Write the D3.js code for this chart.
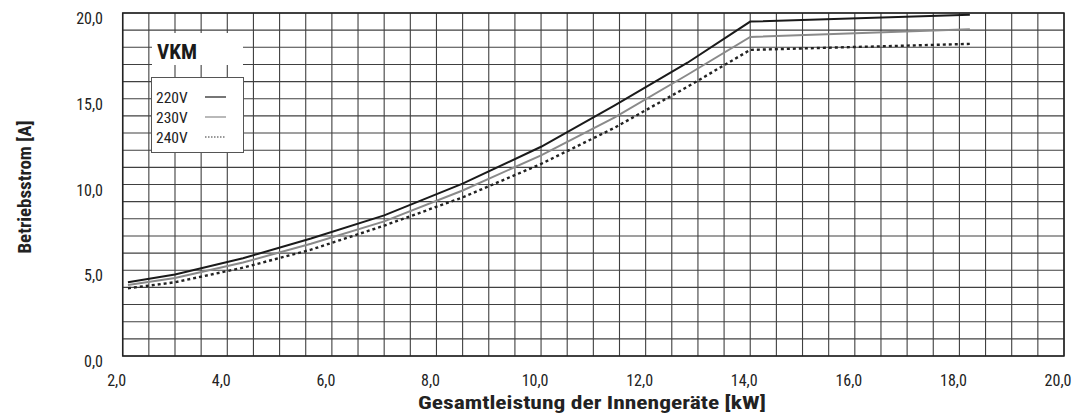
<!DOCTYPE html>
<html><head><meta charset="utf-8">
<script src="https://cdn.jsdelivr.net/npm/d3@7"></script>
<style>
html,body{margin:0;padding:0;background:#fff;}
svg{display:block;font-family:"Liberation Sans Narrow","Roboto Condensed","Arial Narrow",sans-serif;}
</style></head>
<body><svg id="c" width="1079" height="417"></svg>
<script>
const kw = [2.1, 3.0, 4.3, 5.6, 7.0, 8.5, 10.0, 11.4, 12.8, 14.0, 18.2];
const v220 = [4.3, 4.75, 5.7, 6.85, 8.2, 10.05, 12.2, 14.6, 17.1, 19.5, 19.9];
const v230 = [4.14, 4.55, 5.45, 6.55, 7.85, 9.65, 11.7, 13.9, 16.4, 18.6, 19.05];
const v240 = [3.95, 4.3, 5.15, 6.2, 7.6, 9.25, 11.2, 13.3, 15.7, 17.85, 18.2];
const seriesNames = ["220V", "230V", "240V"];
const xTicks = [2, 4, 6, 8, 10, 12, 14, 16, 18, 20];
const yTicks = [0, 5, 10, 15, 20];
const title = "VKM";
const xTitle = "Gesamtleistung der Innengeräte [kW]";
const yTitle = "Betriebsstrom [A]";

const svg = d3.select("#c");
const x = d3.scaleLinear().domain([2, 20]).range([122.7, 1064]);
const y = d3.scaleLinear().domain([0, 20]).range([356, 13]);
const fmt = d => d.toFixed(1).replace(".", ",");

// grid
const g = svg.append("g");
g.selectAll("line.v").data(d3.range(2, 20.01, 0.5)).join("line")
  .attr("x1", d => x(d)).attr("x2", d => x(d))
  .attr("y1", y(0)).attr("y2", y(20))
  .attr("stroke", "#404040").attr("stroke-width", 1.1);
g.selectAll("line.h").data(d3.range(0, 20.01, 1)).join("line")
  .attr("y1", d => y(d)).attr("y2", d => y(d))
  .attr("x1", x(2)).attr("x2", x(20))
  .attr("stroke", "#404040").attr("stroke-width", 1.1);
svg.append("rect").attr("x", x(2)).attr("y", y(20))
  .attr("width", x(20) - x(2)).attr("height", y(0) - y(20))
  .attr("fill", "none").attr("stroke", "#222").attr("stroke-width", 1.5);

// series
const line = d3.line().x(d => x(d[0])).y(d => y(d[1]));
const styles = [
  {vals: v220, stroke: "#1a1a1a", w: 2, dash: null},
  {vals: v230, stroke: "#8a8a8a", w: 2, dash: null},
  {vals: v240, stroke: "#222", w: 2.4, dash: "3,3"}
];
styles.forEach(s => {
  svg.append("path").datum(kw.map((k, i) => [k, s.vals[i]]))
    .attr("d", line).attr("fill", "none")
    .attr("stroke", s.stroke).attr("stroke-width", s.w)
    .attr("stroke-dasharray", s.dash);
});

// axes labels
svg.append("g").selectAll("text").data(xTicks).join("text")
  .attr("x", d => x(d) - 6).attr("y", 385.5)
  .attr("text-anchor", "middle").attr("font-size", 16).attr("fill", "#222")
  .text(fmt);
svg.append("g").selectAll("text").data(yTicks).join("text")
  .attr("x", 103).attr("y", d => y(d) + 11)
  .attr("text-anchor", "end").attr("font-size", 16).attr("fill", "#222")
  .text(fmt);
svg.append("text").attr("x", 592).attr("y", 409)
  .attr("text-anchor", "middle").attr("font-size", 19).attr("font-weight", "bold")
  .attr("textLength", 348).attr("lengthAdjust", "spacingAndGlyphs")
  .attr("fill", "#222").text(xTitle);
svg.append("text").attr("transform", "translate(31,187) rotate(-90)")
  .attr("text-anchor", "middle").attr("font-size", 17.5).attr("font-weight", "bold")
  .attr("textLength", 133).attr("lengthAdjust", "spacingAndGlyphs")
  .attr("fill", "#222").text(yTitle);

// legend
svg.append("rect").attr("x", 152).attr("y", 33).attr("width", 91).attr("height", 32).attr("fill", "#fff");
svg.append("text").attr("x", 157).attr("y", 59).attr("font-size", 21).attr("font-weight", "bold")
  .attr("textLength", 40).attr("lengthAdjust", "spacingAndGlyphs")
  .attr("fill", "#1a1a1a").text(title);
svg.append("rect").attr("x", 151.5).attr("y", 77.5).attr("width", 92).attr("height", 75)
  .attr("fill", "#fff").attr("stroke", "#555").attr("stroke-width", 1);
const lg = svg.append("g").selectAll("g").data(seriesNames).join("g")
  .attr("transform", (d, i) => `translate(0,${97 + i * 20})`);
lg.append("text").attr("x", 156).attr("y", 5.5).attr("font-size", 15.5).attr("fill", "#222").text(d => d);
lg.append("line").attr("x1", 205).attr("x2", 226).attr("y1", 0).attr("y2", 0)
  .attr("stroke", (d, i) => ["#1a1a1a", "#8a8a8a", "#333"][i])
  .attr("stroke-width", (d, i) => i === 2 ? 1 : 1.2)
  .attr("stroke-dasharray", (d, i) => i === 2 ? "1.5,1.5" : null);
</script></body></html>
